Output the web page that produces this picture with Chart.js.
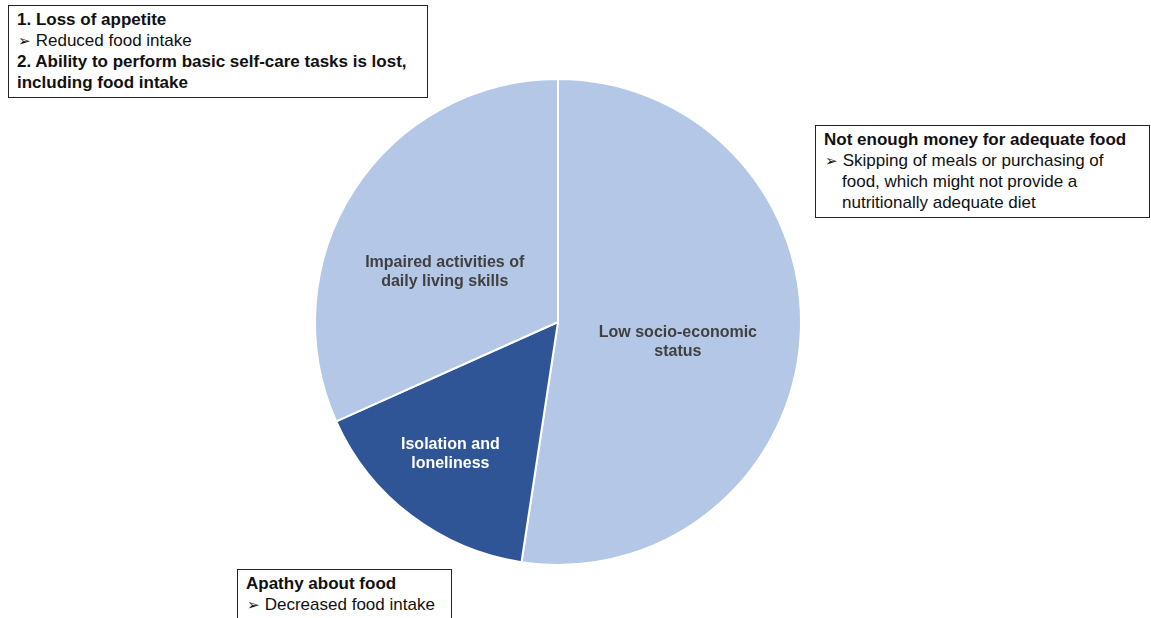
<!DOCTYPE html>
<html>
<head>
<meta charset="utf-8">
<script src="https://cdn.jsdelivr.net/npm/chart.js@4"></script>
<style>
  html, body { margin: 0; padding: 0; background: #fff; }
  #wrap { position: relative; width: 1151px; height: 618px; overflow: hidden; }
  #chart { position: absolute; left: 0; top: 0; }
  .note {
    position: absolute; box-sizing: border-box; background: #fff;
    border: 1px solid #222; font-family: "Liberation Sans", Arial, sans-serif;
    font-size: 17px; line-height: 21px; color: #111; padding: 3px 8px;
    white-space: nowrap;
  }
  .note b { font-weight: bold; }
  .note .sub { padding-left: 1px; }
  .note .hang { padding-left: 18px; }
  .arr { font-size: 15px; }
</style>
</head>
<body>
<div id="wrap">
  <canvas id="chart" width="1151" height="618"></canvas>
  <div class="note" style="left:8px;top:5px;width:420px;height:93px;">
    <b>1. Loss of appetite</b><br>
    <span class="sub"><span class="arr">&#10146;</span> Reduced food intake</span><br>
    <b>2. Ability to perform basic self-care tasks is lost,<br>including food intake</b>
  </div>
  <div class="note" style="left:815px;top:125px;width:335px;height:93px;">
    <b>Not enough money for adequate food</b><br>
    <span class="sub"><span class="arr">&#10146;</span> Skipping of meals or purchasing of</span><br>
    <span class="hang">food, which might not provide a</span><br>
    <span class="hang">nutritionally adequate diet</span>
  </div>
  <div class="note" style="left:237px;top:569px;width:215px;height:60px;">
    <b>Apathy about food</b><br>
    <span class="sub"><span class="arr">&#10146;</span> Decreased food intake</span>
  </div>
</div>
<script>
const categories = ['Low socio-economic status', 'Isolation and loneliness', 'Impaired activities of daily living skills'];
const labelLines = [['Low socio-economic', 'status'], ['Isolation and', 'loneliness'], ['Impaired activities of', 'daily living skills']];
const shares = [52.4, 15.9, 31.7];
const sliceColors = ['#b4c7e7', '#2f5597', '#b4c7e7'];
const labelColors = ['#404040', '#ffffff', '#404040'];

// label placement inside each slice: fraction of radius, angle nudge (deg)
const labelRadius = [0.5, 0.7, 0.51];
const labelNudge = [5, 2, -9];

const sliceLabels = {
  id: 'sliceLabels',
  afterDatasetsDraw(chart) {
    const ctx = chart.ctx;
    const arcs = chart.getDatasetMeta(0).data;
    ctx.save();
    ctx.font = 'bold 16px "Liberation Sans", Arial, sans-serif';
    ctx.textAlign = 'center';
    ctx.textBaseline = 'middle';
    arcs.forEach((arc, i) => {
      const p = arc.getProps(['x', 'y', 'startAngle', 'endAngle', 'outerRadius']);
      const a = (p.startAngle + p.endAngle) / 2 + labelNudge[i] * Math.PI / 180;
      const r = p.outerRadius * labelRadius[i];
      const cx = p.x + Math.cos(a) * r;
      const cy = p.y + Math.sin(a) * r;
      ctx.fillStyle = labelColors[i];
      const lines = labelLines[i];
      lines.forEach((ln, k) => {
        ctx.fillText(ln, cx, cy + (k - (lines.length - 1) / 2) * 19);
      });
    });
    ctx.restore();
  }
};

new Chart(document.getElementById('chart'), {
  type: 'pie',
  data: {
    labels: categories,
    datasets: [{
      data: shares,
      backgroundColor: sliceColors,
      borderColor: '#ffffff',
      borderWidth: 2
    }]
  },
  options: {
    responsive: false,
    animation: false,
    radius: 243,
    layout: { padding: { left: 0, right: 35, top: 26, bottom: 0 } },
    plugins: {
      legend: { display: false },
      tooltip: { enabled: false }
    }
  },
  plugins: [sliceLabels]
});
</script>
</body>
</html>
